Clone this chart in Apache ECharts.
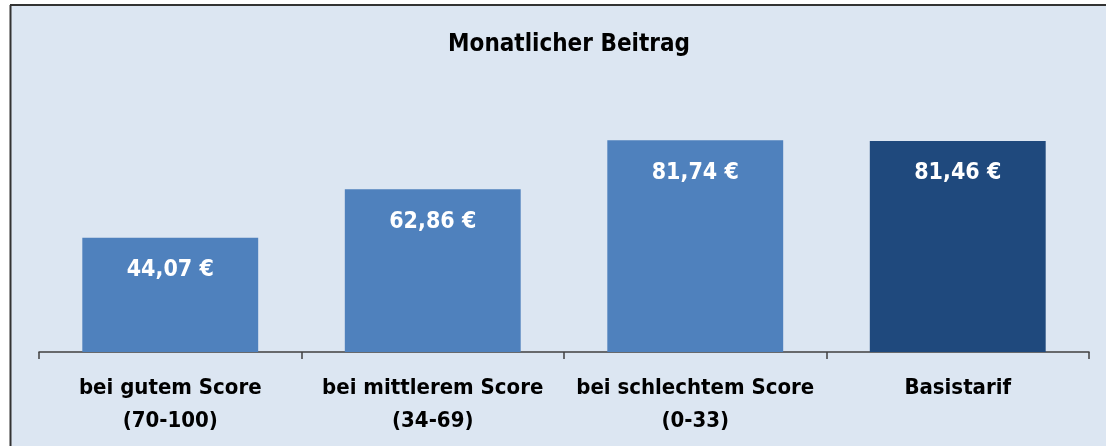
<!DOCTYPE html>
<html><head><meta charset="utf-8">
<script src="https://cdn.jsdelivr.net/npm/echarts@6/dist/echarts.min.js"></script>
<style>html,body{margin:0;padding:0;background:#fff}#c{width:1106px;height:446px}</style>
</head><body><div id="c"></div>
<script>
const categories = ['bei gutem Score\n(70-100)', 'bei mittlerem Score\n(34-69)', 'bei schlechtem Score\n(0-33)', 'Basistarif'];
const values = [44.07, 62.86, 81.74, 81.46];
const barColors = ['#4f81bd', '#4f81bd', '#4f81bd', '#1f497d'];
const titleText = 'Monatlicher Beitrag';
const FONT = '"DejaVu Sans Condensed", "Liberation Sans Narrow", sans-serif';

const chart = echarts.init(document.getElementById('c'), null, {renderer: 'canvas'});
chart.setOption({
  backgroundColor: '#ffffff',
  animation: false,
  graphic: [
    {type: 'rect', z: -10, silent: true, shape: {x: 10, y: 5, width: 1100, height: 445}, style: {fill: '#dce6f2', stroke: null, lineWidth: 0}},
    {type: 'line', z: -5, silent: true, shape: {x1: 10, y1: 5, x2: 1106, y2: 5}, style: {stroke: '#333', lineWidth: 2}},
    {type: 'line', z: -5, silent: true, shape: {x1: 10.5, y1: 5, x2: 10.5, y2: 446}, style: {stroke: '#333', lineWidth: 2}}
  ],
  title: {
    text: titleText, left: 564, top: 28, textAlign: 'center',
    textStyle: {fontFamily: FONT, fontWeight: 'bold', fontSize: 24, color: '#000'}
  },
  grid: {left: 39, right: 17, top: 93, bottom: 94},
  xAxis: {
    type: 'category', data: categories,
    axisLine: {lineStyle: {color: '#404040', width: 1.5}},
    axisTick: {show: true, length: 7, lineStyle: {color: '#404040', width: 1.5}},
    axisLabel: {fontFamily: FONT, fontWeight: 'bold', fontSize: 22, lineHeight: 33, color: '#000', margin: 20, interval: 0}
  },
  yAxis: {type: 'value', min: 0, max: 100, show: false, splitLine: {show: false}},
  series: [{
    type: 'bar', barCategoryGap: '33%',
    data: values.map((v, i) => ({value: v, itemStyle: {color: barColors[i]}})),
    label: {
      show: true, position: 'insideTop', distance: 21,
      formatter: p => p.value.toFixed(2).replace('.', ',') + ' €',
      fontFamily: FONT, fontWeight: 'bold', fontSize: 23, color: '#fff'
    }
  }]
});
</script></body></html>
